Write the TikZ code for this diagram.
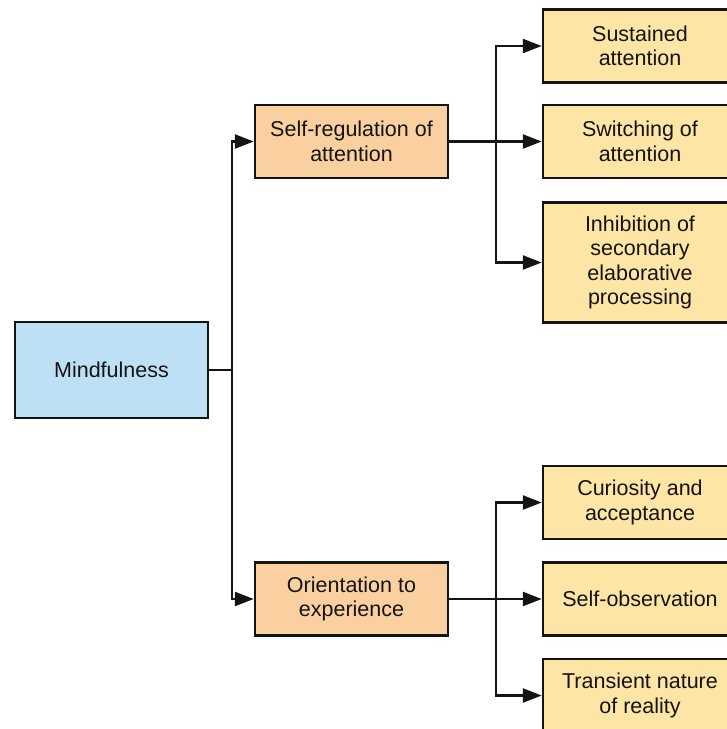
\documentclass[tikz,border=0pt]{standalone}
\usepackage{fontspec}
\setmainfont{Liberation Sans}
\usetikzlibrary{arrows.meta}
\definecolor{rootfill}{RGB}{190,224,245}
\definecolor{midfill}{RGB}{250,208,160}
\definecolor{leaffill}{RGB}{253,229,165}
\definecolor{ink}{RGB}{20,20,20}
\tikzset{
  box/.style={draw=ink, line width=2.5pt, text=ink, align=center,
    minimum width=193pt, inner sep=0pt,
    font=\fontsize{21.5}{24.5}\selectfont},
  rootbox/.style={box, fill=rootfill, minimum height=96pt},
  midbox/.style={box, fill=midfill, minimum height=73pt},
  leafbox/.style={box, fill=leaffill, minimum width=194pt, minimum height=73pt},
  link/.style={draw=ink, line width=2.5pt},
  arrowlink/.style={link, -{Triangle[length=19pt,width=14pt]}}
}
\begin{document}
\begin{tikzpicture}[x=1pt,y=-1pt]
\useasboundingbox (0,0) rectangle (727,729);
\clip (0,0) rectangle (727,729);
\fill[white] (0,0) rectangle (727,729);

% root and the two main aspects
\node[rootbox] (mind) at (111.5,370) {Mindfulness};
\node[midbox] (selfreg) at (351.5,141.5) {Self-regulation of\\attention};
\node[midbox] (orient) at (351.5,599) {Orientation to\\experience};

% components of self-regulation of attention
\node[leafbox] (sust) at (640,46) {Sustained\\attention};
\node[leafbox] (switch) at (640,141.5) {Switching of\\attention};
\node[leafbox, minimum height=120pt] (inhib) at (640,262.5) {Inhibition of\\secondary\\elaborative\\processing};

% components of orientation to experience
\node[leafbox] (curio) at (640,502.5) {Curiosity and\\acceptance};
\node[leafbox] (selfobs) at (640,599) {Self-observation};
\node[leafbox] (trans) at (640,695.5) {Transient nature\\of reality};

% junction points of the tree
\coordinate (trunk) at (232,370);
\coordinate (jupper) at (496,141.5);
\coordinate (jlower) at (496,599);

% root to main aspects
\draw[link] (mind.east) -- (trunk);
\draw[arrowlink] (trunk) |- (selfreg.west);
\draw[arrowlink] (trunk) |- (orient.west);

% upper branch
\draw[arrowlink] (selfreg.east) -- (switch.west);
\draw[arrowlink] (jupper) |- (sust.west);
\draw[arrowlink] (jupper) |- (inhib.west);

% lower branch
\draw[arrowlink] (orient.east) -- (selfobs.west);
\draw[arrowlink] (jlower) |- (curio.west);
\draw[arrowlink] (jlower) |- (trans.west);
\end{tikzpicture}
\end{document}
